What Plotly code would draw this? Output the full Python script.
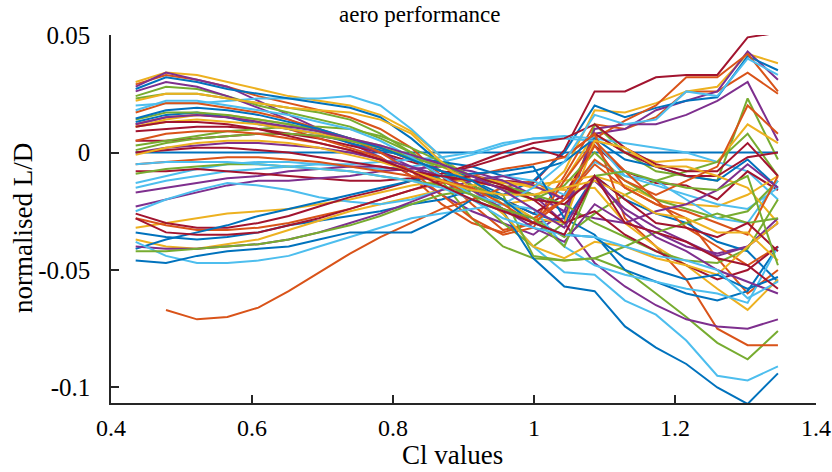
import plotly.graph_objects as go

cl_values = [0.435, 0.478, 0.522, 0.565, 0.609, 0.652, 0.695, 0.739, 0.782, 0.826, 0.869,
             0.912, 0.956, 0.999, 1.043, 1.086, 1.129, 1.173, 1.216, 1.260, 1.303, 1.346]

x_ticks = [0.4, 0.6, 0.8, 1.0, 1.2, 1.4]
x_tick_labels = ["0.4", "0.6", "0.8", "1", "1.2", "1.4"]
y_ticks = [0.05, 0.0, -0.05, -0.1]
y_tick_labels = ["0.05", "0", "-0.05", "-0.1"]

blue_lines = [
    [0.0] * 22,
    [0.027, 0.032, 0.030, 0.027, 0.025, 0.023, 0.021, 0.019, 0.015, 0.006, -0.005, -0.012, -0.018, -0.012, 0.000, 0.020, 0.015, 0.019, 0.022, 0.0235, 0.041, 0.035],
    [0.013, 0.016, 0.017, 0.015, 0.012, 0.010, 0.008, 0.004, 0.001, -0.002, -0.004, -0.006, -0.010, -0.008, -0.004, 0.006, -0.003, -0.006, -0.010, -0.012, -0.003, -0.015],
    [-0.034, -0.036, -0.037, -0.036, -0.034, -0.031, -0.029, -0.027, -0.025, -0.022, -0.020, -0.016, -0.020, -0.026, -0.030, -0.010, -0.020, -0.026, -0.030, -0.038, -0.042, -0.055],
    [-0.041, -0.037, -0.034, -0.031, -0.027, -0.024, -0.021, -0.018, -0.015, -0.012, -0.010, -0.009, -0.008, -0.006, -0.028, -0.035, -0.050, -0.055, -0.060, -0.063, -0.059, -0.040],
    [-0.046, -0.047, -0.044, -0.042, -0.041, -0.040, -0.037, -0.034, -0.034, -0.034, -0.028, -0.020, -0.025, -0.045, -0.057, -0.059, -0.074, -0.083, -0.090, -0.100, -0.107, -0.094],
    [0.0145, 0.018, 0.019, 0.018, 0.016, 0.013, 0.010, 0.006, 0.002, -0.003, -0.008, -0.012, -0.020, -0.030, -0.035, -0.036, -0.045, -0.050, -0.054, -0.052, -0.058, -0.053],
]
orange_lines = [
    [0.029, 0.033, 0.031, 0.028, 0.024, 0.021, 0.018, 0.015, 0.010, 0.002, -0.010, -0.022, -0.033, -0.030, -0.010, 0.012, 0.010, 0.015, 0.026, 0.026, 0.034, 0.025],
    [0.012, 0.015, 0.016, 0.015, 0.013, 0.010, 0.006, 0.002, -0.002, -0.010, -0.022, -0.030, -0.034, -0.030, -0.020, 0.006, 0.0136, 0.020, 0.032, 0.032, 0.042, 0.026],
    [None, -0.067, -0.071, -0.070, -0.066, -0.059, -0.051, -0.043, -0.036, -0.030, -0.024, -0.020, -0.015, -0.012, -0.020, -0.005, -0.015, -0.022, -0.028, -0.045, -0.060, -0.050],
    [-0.028, -0.031, -0.033, -0.033, -0.032, -0.030, -0.027, -0.024, -0.020, -0.016, -0.013, -0.010, -0.007, -0.005, -0.002, 0.008, -0.028, -0.040, -0.054, -0.075, -0.082, -0.082],
    [0.017, 0.021, 0.021, 0.019, 0.017, 0.014, 0.010, 0.006, 0.000, -0.008, -0.018, -0.028, -0.035, -0.032, -0.012, 0.005, -0.008, -0.020, -0.032, -0.040, -0.048, -0.040],
    [0.005, 0.008, 0.009, 0.009, 0.008, 0.006, 0.004, 0.001, -0.003, -0.008, -0.012, -0.018, -0.024, -0.028, -0.020, 0.003, -0.015, -0.022, -0.025, -0.030, -0.035, -0.010],
    [-0.005, -0.004, -0.003, -0.002, -0.002, -0.003, -0.004, -0.006, -0.008, -0.010, -0.012, -0.015, -0.022, -0.030, -0.020, -0.003, -0.012, -0.018, -0.012, -0.006, 0.020, 0.008],
]
yellow_lines = [
    [0.030, 0.034, 0.033, 0.030, 0.027, 0.024, 0.022, 0.020, 0.016, 0.009, -0.002, -0.012, -0.022, -0.020, -0.008, 0.018, 0.017, 0.021, 0.026, 0.028, 0.042, 0.038],
    [0.011, 0.014, 0.016, 0.016, 0.014, 0.012, 0.009, 0.006, 0.003, -0.001, -0.006, -0.010, -0.013, -0.014, -0.012, 0.008, 0.000, -0.004, -0.003, -0.004, 0.012, 0.004],
    [-0.032, -0.030, -0.028, -0.026, -0.025, -0.024, -0.022, -0.020, -0.017, -0.014, -0.012, -0.012, -0.013, -0.014, -0.012, -0.010, -0.014, -0.020, -0.022, -0.023, -0.018, -0.010],
    [-0.037, -0.040, -0.041, -0.039, -0.037, -0.033, -0.029, -0.025, -0.022, -0.019, -0.016, -0.014, -0.012, -0.015, -0.016, -0.015, -0.030, -0.040, -0.048, -0.058, -0.067, -0.054],
    [0.011, 0.013, 0.014, 0.013, 0.012, 0.010, 0.008, 0.005, 0.002, -0.002, -0.006, -0.012, -0.020, -0.028, -0.030, 0.005, 0.002, -0.006, -0.006, -0.010, -0.015, -0.030],
    [0.022, 0.025, 0.025, 0.023, 0.021, 0.019, 0.018, 0.017, 0.014, 0.008, -0.004, -0.016, -0.026, -0.040, -0.045, -0.038, -0.040, -0.045, -0.048, -0.052, -0.040, -0.030],
    [-0.001, 0.002, 0.004, 0.005, 0.005, 0.004, 0.002, -0.001, -0.004, -0.008, -0.012, -0.016, -0.018, -0.018, -0.015, -0.012, -0.018, -0.026, -0.028, -0.034, -0.034, -0.046],
]
purple_lines = [
    [0.028, 0.034, 0.031, 0.028, 0.022, 0.016, 0.010, 0.004, -0.002, -0.010, -0.018, -0.025, -0.030, -0.035, -0.025, 0.008, 0.010, 0.018, 0.022, 0.026, 0.043, 0.031],
    [0.026, 0.030, 0.028, 0.024, 0.019, 0.014, 0.009, 0.004, 0.000, -0.006, -0.012, -0.018, -0.024, -0.030, -0.028, 0.010, 0.012, 0.012, 0.016, 0.022, 0.030, 0.005],
    [-0.017, -0.015, -0.013, -0.011, -0.010, -0.008, -0.007, -0.006, -0.006, -0.008, -0.010, -0.012, -0.015, -0.018, -0.025, -0.028, -0.030, -0.034, -0.040, -0.043, -0.040, -0.030],
    [-0.023, -0.020, -0.017, -0.014, -0.012, -0.012, -0.011, -0.010, -0.008, -0.007, -0.006, -0.008, -0.012, -0.018, -0.030, -0.047, -0.057, -0.065, -0.071, -0.074, -0.075, -0.071],
    [-0.040, -0.041, -0.041, -0.040, -0.039, -0.037, -0.034, -0.030, -0.026, -0.021, -0.016, -0.012, -0.010, -0.014, -0.020, -0.012, -0.024, -0.032, -0.038, -0.044, -0.040, -0.028],
    [0.000, 0.002, 0.003, 0.004, 0.004, 0.003, 0.002, 0.000, -0.003, -0.006, -0.010, -0.016, -0.024, -0.032, -0.038, -0.022, -0.030, -0.025, -0.022, -0.016, -0.005, -0.015],
    [0.012, 0.015, 0.016, 0.015, 0.013, 0.011, 0.009, 0.006, 0.003, -0.001, -0.005, -0.010, -0.016, -0.024, -0.032, -0.010, -0.026, -0.036, -0.042, -0.050, -0.055, -0.060],
]
green_lines = [
    [0.024, 0.028, 0.027, 0.024, 0.020, 0.017, 0.014, 0.011, 0.006, 0.000, -0.008, -0.018, -0.030, -0.040, -0.030, 0.012, 0.000, -0.008, -0.010, -0.012, 0.023, -0.003],
    [0.023, 0.025, 0.025, 0.023, 0.021, 0.019, 0.017, 0.014, 0.008, 0.000, -0.012, -0.028, -0.040, -0.045, -0.046, -0.045, -0.050, -0.060, -0.070, -0.081, -0.088, -0.076],
    [0.014, 0.017, 0.017, 0.016, 0.014, 0.012, 0.009, 0.006, 0.002, -0.003, -0.008, -0.014, -0.020, -0.028, -0.036, -0.026, -0.018, -0.012, -0.008, -0.004, 0.008, -0.010],
    [0.003, 0.005, 0.007, 0.009, 0.010, 0.011, 0.011, 0.010, 0.007, 0.002, -0.004, -0.010, -0.016, -0.020, -0.014, 0.000, -0.012, -0.020, -0.024, -0.028, -0.025, -0.012],
    [0.001, 0.004, 0.006, 0.007, 0.008, 0.008, 0.007, 0.005, 0.002, -0.002, -0.006, -0.010, -0.014, -0.018, -0.022, -0.030, -0.036, -0.042, -0.046, -0.047, -0.041, -0.020],
    [-0.042, -0.042, -0.041, -0.040, -0.039, -0.037, -0.034, -0.031, -0.027, -0.022, -0.018, -0.016, -0.018, -0.044, -0.046, -0.045, -0.040, -0.034, -0.030, -0.026, -0.030, -0.028],
    [-0.009, -0.007, -0.006, -0.005, -0.005, -0.006, -0.007, -0.008, -0.010, -0.012, -0.014, -0.018, -0.024, -0.028, -0.040, -0.010, -0.008, -0.012, -0.015, -0.016, -0.010, -0.048],
]
lightblue_lines = [
    [0.020, 0.021, 0.021, 0.022, 0.023, 0.023, 0.023, 0.024, 0.020, 0.010, -0.002, -0.014, -0.026, -0.040, -0.051, -0.052, -0.063, -0.069, -0.080, -0.095, -0.097, -0.091],
    [-0.013, -0.010, -0.007, -0.005, -0.004, -0.004, -0.005, -0.006, -0.007, -0.006, -0.004, -0.001, 0.003, 0.006, 0.007, 0.006, 0.004, 0.002, 0.000, -0.004, -0.008, -0.020],
    [-0.015, -0.012, -0.010, -0.008, -0.007, -0.006, -0.005, -0.005, -0.004, -0.003, -0.002, 0.000, 0.004, 0.006, 0.006, 0.005, -0.010, -0.014, -0.018, -0.022, -0.024, -0.015],
    [-0.025, -0.020, -0.016, -0.013, -0.014, -0.016, -0.019, -0.021, -0.022, -0.020, -0.016, -0.012, -0.010, -0.012, -0.018, -0.004, -0.010, -0.012, -0.020, -0.028, -0.030, -0.012],
    [-0.038, -0.044, -0.047, -0.047, -0.046, -0.044, -0.040, -0.036, -0.032, -0.028, -0.026, -0.024, -0.022, -0.024, -0.040, -0.048, -0.052, -0.055, -0.058, -0.060, -0.064, -0.040],
    [0.018, 0.022, 0.022, 0.020, 0.018, 0.016, 0.013, 0.010, 0.005, -0.002, -0.010, -0.018, -0.022, -0.015, -0.004, 0.016, 0.012, 0.014, 0.026, 0.024, 0.040, 0.033],
    [-0.005, -0.004, -0.004, -0.004, -0.005, -0.006, -0.007, -0.008, -0.010, -0.012, -0.015, -0.020, -0.028, -0.032, -0.035, -0.036, -0.040, -0.044, -0.046, -0.050, -0.062, -0.055],
]
red_lines = [
    [0.009, 0.010, 0.011, 0.011, 0.010, 0.008, 0.006, 0.003, 0.000, -0.004, -0.008, -0.010, -0.012, -0.013, 0.001, 0.026, 0.026, 0.032, 0.033, 0.033, 0.049, 0.051],
    [0.005, 0.005, 0.006, 0.007, 0.008, 0.008, 0.007, 0.005, 0.002, -0.003, -0.008, -0.014, -0.020, -0.026, -0.018, 0.003, -0.008, -0.013, -0.014, -0.020, -0.008, -0.016],
    [-0.008, -0.008, -0.007, -0.008, -0.009, -0.010, -0.011, -0.012, -0.012, -0.011, -0.009, -0.006, -0.002, 0.002, -0.002, 0.008, 0.000, -0.006, -0.010, -0.010, -0.002, 0.000],
    [-0.026, -0.030, -0.032, -0.032, -0.030, -0.027, -0.023, -0.019, -0.016, -0.012, -0.009, -0.005, 0.000, 0.004, 0.006, 0.012, 0.002, -0.005, -0.008, -0.008, 0.004, -0.010],
    [-0.028, -0.034, -0.035, -0.035, -0.034, -0.031, -0.028, -0.024, -0.020, -0.016, -0.012, -0.010, -0.014, -0.020, -0.030, -0.025, -0.035, -0.042, -0.048, -0.054, -0.050, -0.040],
    [0.000, 0.001, 0.002, 0.002, 0.001, 0.000, -0.002, -0.004, -0.006, -0.008, -0.010, -0.012, -0.015, -0.020, -0.022, -0.010, -0.020, -0.030, -0.032, -0.036, -0.030, -0.042],
    [0.011, 0.013, 0.013, 0.012, 0.010, 0.007, 0.004, 0.001, -0.003, -0.008, -0.014, -0.020, -0.025, -0.030, -0.035, -0.010, -0.030, -0.034, -0.038, -0.045, -0.048, -0.058],
]

series_groups = [
    ("#0072BD", blue_lines),
    ("#D95319", orange_lines),
    ("#EDB120", yellow_lines),
    ("#7E2F8E", purple_lines),
    ("#77AC30", green_lines),
    ("#4DBEEE", lightblue_lines),
    ("#A2142F", red_lines),
]

fig = go.Figure()
n_per = len(blue_lines)
for k in range(n_per):
    for color, group in series_groups:
        fig.add_trace(go.Scatter(
            x=cl_values, y=group[k], mode="lines",
            line=dict(color=color, width=2),
            showlegend=False, hoverinfo="skip",
        ))

font_family = "Liberation Serif, Times New Roman, serif"
axis_color = "#262626"

fig.update_layout(
    width=832, height=472,
    margin=dict(l=111, r=16, t=35, b=69, autoexpand=False),
    paper_bgcolor="white", plot_bgcolor="white",
    font=dict(family=font_family, color="black", size=24),
    xaxis=dict(
        range=[0.4, 1.4], tickvals=x_ticks, ticktext=x_tick_labels,
        showgrid=False, zeroline=False, showline=True, linecolor=axis_color, linewidth=1.5,
        ticks="inside", ticklen=8, tickwidth=1.5, tickcolor=axis_color,
        tickfont=dict(size=24, family=font_family, color="black"),
        ticklabelstandoff=2, automargin=False, ticklabeloverflow="allow",
    ),
    yaxis=dict(
        range=[-0.1066, 0.05], tickvals=y_ticks, ticktext=y_tick_labels,
        showgrid=False, zeroline=False, showline=True, linecolor=axis_color, linewidth=1.5,
        ticks="inside", ticklen=8, tickwidth=1.5, tickcolor=axis_color,
        tickfont=dict(size=25, family=font_family, color="black"),
        ticklabelstandoff=14, automargin=False, ticklabeloverflow="allow",
    ),
    annotations=[
        dict(text="aero performance", xref="paper", yref="paper", x=0.438, y=1.057,
             xanchor="center", yanchor="middle", showarrow=False,
             font=dict(size=23, family=font_family, color="black")),
        dict(text="Cl values", xref="paper", yref="paper", x=0.484, y=-0.141,
             xanchor="center", yanchor="middle", showarrow=False,
             font=dict(size=27, family=font_family, color="black")),
        dict(text="normalised L/D", xref="paper", yref="paper", x=-0.125, y=0.4755,
             xanchor="center", yanchor="middle", textangle=-90, showarrow=False,
             font=dict(size=27, family=font_family, color="black")),
    ],
)

fig.write_html("out.html", config={"displayModeBar": False},
               post_script="document.body.style.margin='0px';")
